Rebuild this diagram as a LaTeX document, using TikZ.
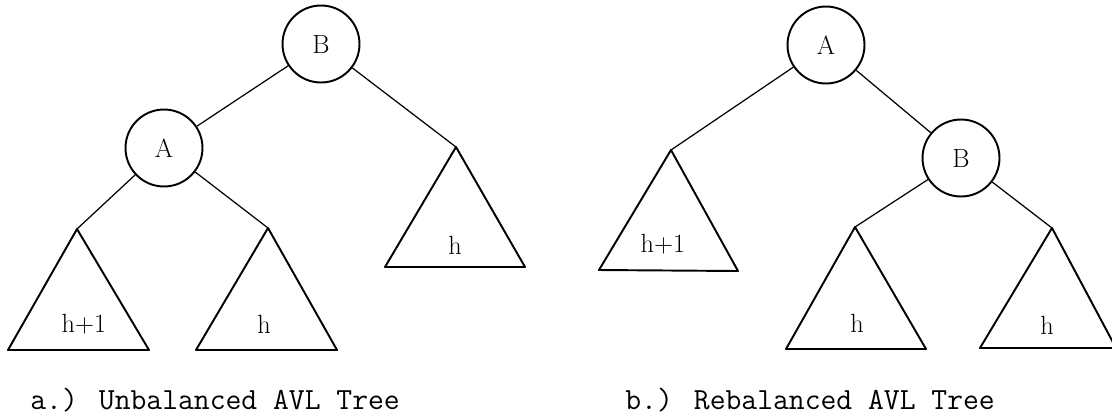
\documentclass[tikz,border=0pt]{standalone}
\usepackage{fontspec}
\begin{document}
\begin{tikzpicture}[x=0.02cm,y=-0.02cm,
    vertex/.style={draw,circle,line width=1.1pt,minimum size=1.54cm,inner sep=0pt,font=\fontsize{15}{18}\selectfont},
    edge/.style={line width=0.7pt},
    subtree/.style={line width=1.1pt,line join=round},
    hlabel/.style={inner sep=0pt,font=\fontsize{15}{18}\selectfont},
    caption/.style={anchor=base west,inner sep=0pt,font=\ttfamily\fontsize{17.5}{20}\selectfont}]
    \useasboundingbox (0,0) rectangle (1112,417);
    \clip (0,0) rectangle (1112,417);
    % Unbalanced tree
    \node[vertex] (B1) at (321,44) {B};
    \node[vertex] (A1) at (164,148) {A};
    \coordinate (t1) at (77,229);
    \coordinate (t2) at (268,228);
    \coordinate (t3) at (456,147);
    \draw[subtree] (t1) -- (8,350) -- (149,350) -- cycle;
    \draw[subtree] (t2) -- (196,350) -- (337,350) -- cycle;
    \draw[subtree] (t3) -- (385,267) -- (525,267) -- cycle;
    \node[hlabel] (h1) at (84,324) {h+1};
    \node[hlabel] (h2) at (264,324) {h};
    \node[hlabel] (h3) at (455,245) {h};
    \draw[edge] (B1) -- (A1);
    \draw[edge] (B1) -- (t3);
    \draw[edge] (A1) -- (t1);
    \draw[edge] (A1) -- (t2);
    % Rebalanced tree
    \node[vertex] (A2) at (826,45) {A};
    \node[vertex] (B2) at (961,158) {B};
    \coordinate (t4) at (671,150);
    \coordinate (t5) at (855,227);
    \coordinate (t6) at (1052,228);
    \draw[subtree] (t4) -- (599,270) -- (738,271) -- cycle;
    \draw[subtree] (t5) -- (786,349) -- (926,349) -- cycle;
    \draw[subtree] (t6) -- (980,348) -- (1116,348) -- cycle;
    \node[hlabel] (h4) at (663,244) {h+1};
    \node[hlabel] (h5) at (857,323) {h};
    \node[hlabel] (h6) at (1047,325) {h};
    \draw[edge] (A2) -- (t4);
    \draw[edge] (A2) -- (B2);
    \draw[edge] (B2) -- (t5);
    \draw[edge] (B2) -- (t6);
    % Captions
    \node[caption] (capa) at (30,409) {a.) Unbalanced AVL Tree};
    \node[caption] (capb) at (625,409) {b.) Rebalanced AVL Tree};
\end{tikzpicture}
\end{document}
